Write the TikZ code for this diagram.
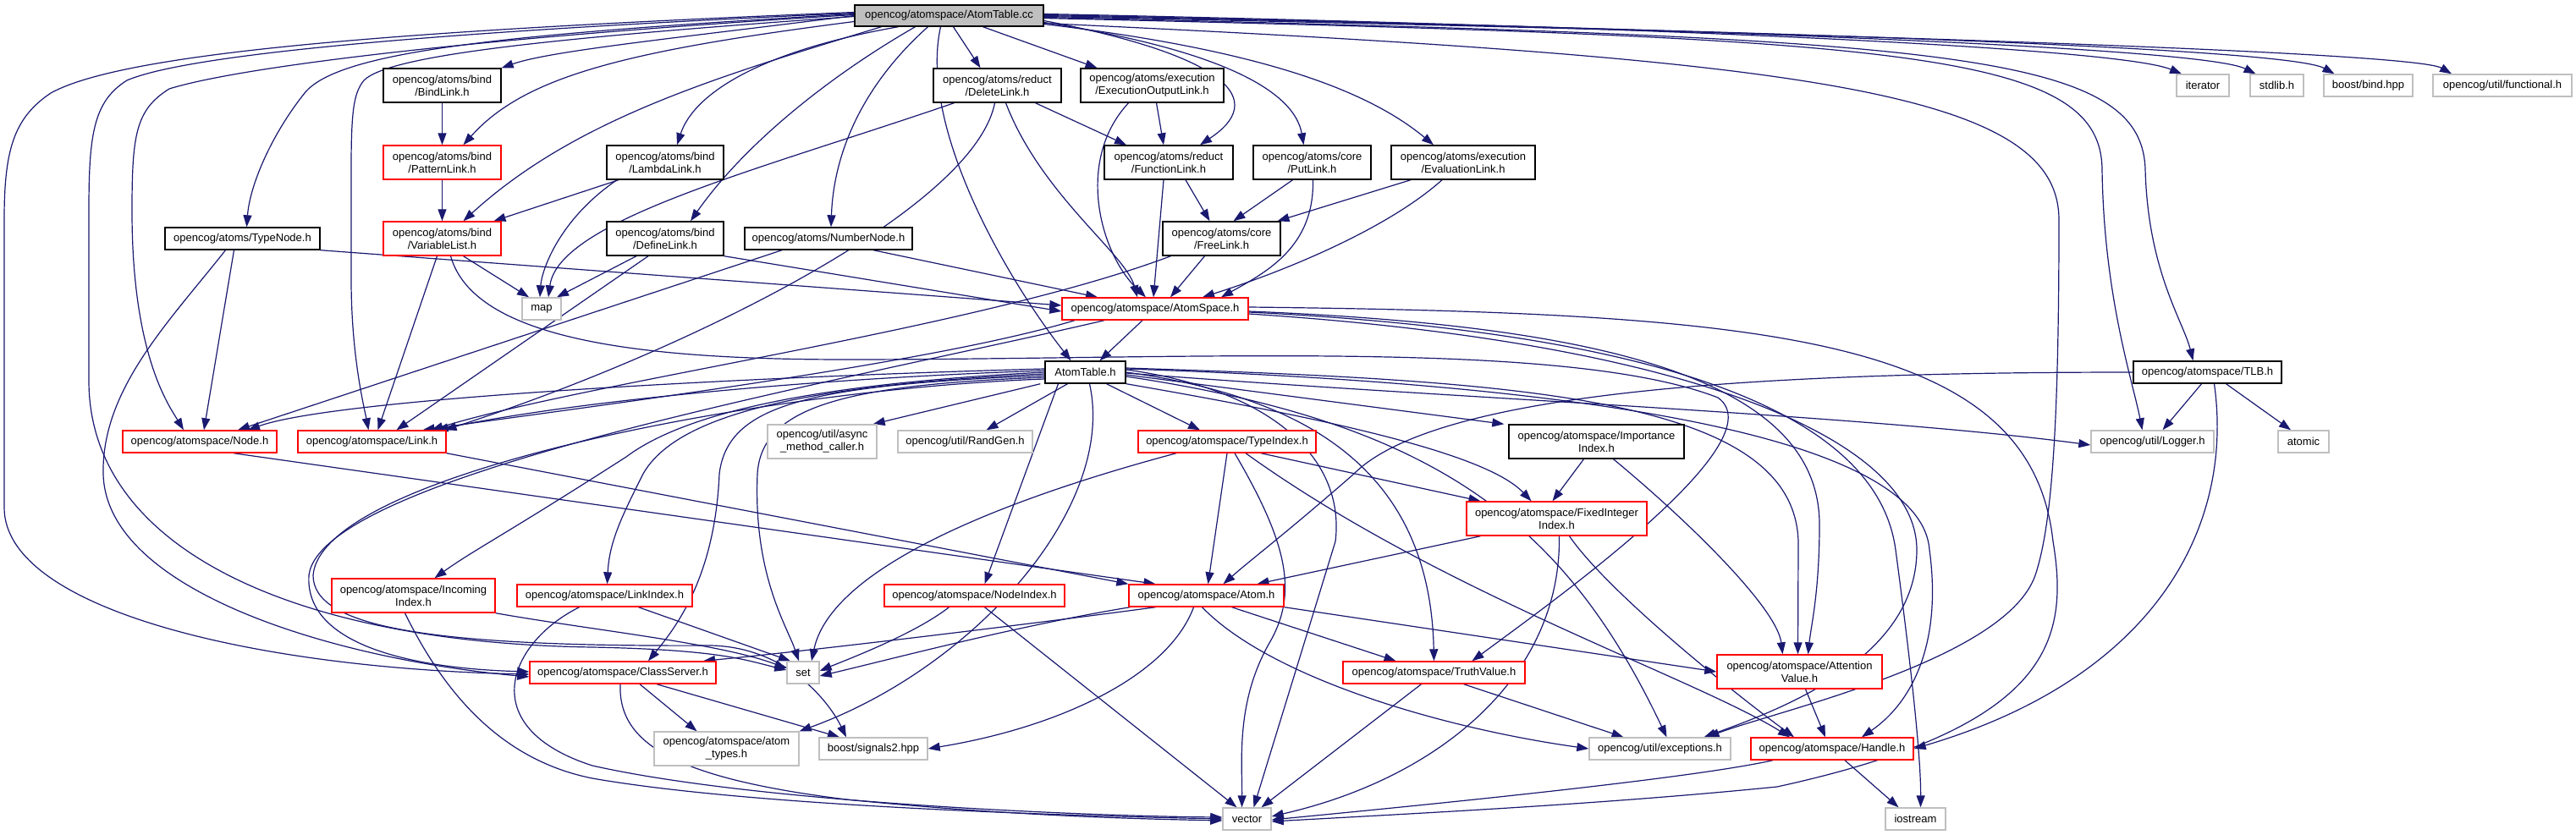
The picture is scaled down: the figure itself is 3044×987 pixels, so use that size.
\documentclass[tikz,border=0pt]{standalone}
\usepackage{fontspec}
\setmainfont{Liberation Sans}
\usetikzlibrary{arrows.meta}
\definecolor{edgec}{HTML}{191970}
\definecolor{dxred}{HTML}{FF0000}
\definecolor{dxgray}{HTML}{BFBFBF}
\pgfdeclarelayer{back}
\pgfdeclarelayer{edges}
\pgfsetlayers{back,edges,main}
\newcommand\mkn[7]{\node[#2, minimum width=#5pt, minimum height=#6pt] (#1) at (#3,#4) {#7};}
\tikzset{
  box/.style={rectangle, draw=black, fill=white, line width=1.4pt, align=center, inner sep=0pt,
    font=\fontsize{13}{15}\selectfont},
  blk/.style={box},
  rbox/.style={box, draw=dxred},
  gbox/.style={box, draw=dxgray},
  root/.style={box, fill=dxgray},
  e/.style={draw=edgec, line width=1.2pt, -{Triangle[length=14pt,width=10pt]}, fill=none}
}
\begin{document}
\begin{tikzpicture}[x=1pt,y=-1pt]
\begin{pgfonlayer}{back}
\fill[white] (0,0) rectangle (3044,987);
\end{pgfonlayer}
\useasboundingbox (0,0) rectangle (3044,987);
% nodes
\mkn{cc}{root}{1121.5}{18.5}{223}{25}{opencog/atomspace/AtomTable.cc}
\mkn{BindLink}{blk}{522.5}{101}{139}{40}{opencog/atoms/bind\\/BindLink.h}
\mkn{DeleteLink}{blk}{1178.5}{101}{151}{40}{opencog/atoms/reduct\\/DeleteLink.h}
\mkn{ExecOut}{blk}{1361.5}{101}{169}{40}{opencog/atoms/execution\\/ExecutionOutputLink.h}
\mkn{iterator}{gbox}{2603}{101}{62}{26}{iterator}
\mkn{stdlib}{gbox}{2690.5}{101}{63}{26}{stdlib.h}
\mkn{bindhpp}{gbox}{2798.5}{101}{105}{26}{boost/bind.hpp}
\mkn{functional}{gbox}{2957}{101}{164}{26}{opencog/util/functional.h}
\mkn{PatternLink}{rbox}{522.5}{192}{139}{40}{opencog/atoms/bind\\/PatternLink.h}
\mkn{LambdaLink}{blk}{786}{192}{138}{40}{opencog/atoms/bind\\/LambdaLink.h}
\mkn{FunctionLink}{blk}{1381}{192}{152}{40}{opencog/atoms/reduct\\/FunctionLink.h}
\mkn{PutLink}{blk}{1550.5}{192}{139}{40}{opencog/atoms/core\\/PutLink.h}
\mkn{EvalLink}{blk}{1729}{192}{170}{40}{opencog/atoms/execution\\/EvaluationLink.h}
\mkn{VariableList}{rbox}{522.5}{282}{139}{40}{opencog/atoms/bind\\/VariableList.h}
\mkn{TypeNode}{blk}{286.5}{282}{183}{26}{opencog/atoms/TypeNode.h}
\mkn{DefineLink}{blk}{786}{282}{138}{40}{opencog/atoms/bind\\/DefineLink.h}
\mkn{NumberNode}{blk}{979}{282}{198}{26}{opencog/atoms/NumberNode.h}
\mkn{FreeLink}{blk}{1443.5}{282}{139}{40}{opencog/atoms/core\\/FreeLink.h}
\mkn{map}{gbox}{640}{365}{46}{26}{map}
\mkn{AtomSpace}{rbox}{1365}{365}{220}{26}{opencog/atomspace/AtomSpace.h}
\mkn{ath}{blk}{1282.5}{440}{95}{26}{AtomTable.h}
\mkn{TLB}{blk}{2608.5}{440}{175}{26}{opencog/atomspace/TLB.h}
\mkn{Node}{rbox}{236}{522}{182}{26}{opencog/atomspace/Node.h}
\mkn{Link}{rbox}{439.5}{522}{175}{26}{opencog/atomspace/Link.h}
\mkn{async}{gbox}{971.5}{522}{129}{40}{opencog/util/async\\\_method\_caller.h}
\mkn{RandGen}{gbox}{1140.5}{522}{159}{26}{opencog/util/RandGen.h}
\mkn{TypeIndex}{rbox}{1450}{522}{210}{26}{opencog/atomspace/TypeIndex.h}
\mkn{Importance}{blk}{1886.5}{522}{207}{40}{opencog/atomspace/Importance\\Index.h}
\mkn{Logger}{gbox}{2543.5}{522}{145}{26}{opencog/util/Logger.h}
\mkn{atomic}{gbox}{2722}{522}{60}{26}{atomic}
\mkn{FixedInteger}{rbox}{1839.5}{613}{213}{40}{opencog/atomspace/FixedInteger\\Index.h}
\mkn{Incoming}{rbox}{488.5}{704}{193}{40}{opencog/atomspace/Incoming\\Index.h}
\mkn{LinkIndex}{rbox}{714.5}{704}{207}{26}{opencog/atomspace/LinkIndex.h}
\mkn{NodeIndex}{rbox}{1151.5}{704}{213}{26}{opencog/atomspace/NodeIndex.h}
\mkn{Atom}{rbox}{1425.5}{704}{183}{26}{opencog/atomspace/Atom.h}
\mkn{ClassServer}{rbox}{736}{795}{220}{26}{opencog/atomspace/ClassServer.h}
\mkn{set}{gbox}{949}{795}{38}{26}{set}
\mkn{TruthValue}{rbox}{1694.5}{795}{215}{26}{opencog/atomspace/TruthValue.h}
\mkn{Attention}{rbox}{2126.5}{794}{195}{40}{opencog/atomspace/Attention\\Value.h}
\mkn{atomtypes}{gbox}{858.5}{885}{171}{40}{opencog/atomspace/atom\\\_types.h}
\mkn{signals}{gbox}{1032}{885}{128}{26}{boost/signals2.hpp}
\mkn{exceptions}{gbox}{1961.5}{885}{167}{26}{opencog/util/exceptions.h}
\mkn{Handle}{rbox}{2165}{885}{192}{26}{opencog/atomspace/Handle.h}
\mkn{vector}{gbox}{1473.5}{968}{57}{26}{vector}
\mkn{iostream}{gbox}{2263.5}{968}{71}{26}{iostream}

\begin{pgfonlayer}{edges}
% ---- from AtomTable.cc
\draw[e] (cc.west) .. controls (800,45) and (650,60) .. (BindLink.north east);
\draw[e] ([yshift=-7pt]cc.west) .. controls (740,60) and (620,90) .. ([xshift=25pt]PatternLink.north);
\draw[e] ([xshift=-80pt]cc.south) .. controls (850,90) and (680,140) .. ([xshift=25pt]VariableList.north);
\draw[e] ([yshift=2pt]cc.west) .. controls (600,40) and (400,60) .. (360,110) .. controls (320,160) and (295,220) .. ([xshift=5pt]TypeNode.north);
\draw[e] ([xshift=-60pt]cc.south) .. controls (900,60) and (820,110) .. ([xshift=14pt]LambdaLink.north);
\draw[e] ([xshift=-40pt]cc.south) .. controls (980,90) and (880,170) .. ([xshift=30pt]DefineLink.north);
\draw[e] ([xshift=-25pt]cc.south) .. controls (1020,100) and (985,180) .. ([xshift=3pt]NumberNode.north);
\draw[e] ([xshift=5pt]cc.south) -- ([xshift=-20pt]DeleteLink.north);
\draw[e] ([xshift=40pt]cc.south) -- ([xshift=-65pt]ExecOut.north);
\draw[e] ([yshift=-6pt]cc.east) .. controls (1420,60) and (1510,110) .. ([xshift=37pt]FunctionLink.north);
\draw[e] ([yshift=-8pt]cc.east) .. controls (1450,60) and (1530,110) .. ([xshift=-10pt]PutLink.north);
\draw[e] ([yshift=-10pt]cc.east) .. controls (1500,60) and (1620,110) .. ([xshift=-35pt]EvalLink.north);
\draw[e] ([xshift=-10pt]cc.south) .. controls (1085,150) and (1190,330) .. ([xshift=-17pt]ath.north);
\draw[e] ([yshift=2pt]cc.east) .. controls (1900,30) and (2500,55) .. ([xshift=-25pt]iterator.north);
\draw[e] ([yshift=1pt]cc.east) .. controls (1950,32) and (2600,55) .. ([xshift=-25pt]stdlib.north);
\draw[e] ([yshift=0pt]cc.east) .. controls (2000,34) and (2700,55) .. ([xshift=-40pt]bindhpp.north);
\draw[e] ([yshift=-1pt]cc.east) .. controls (2050,36) and (2850,60) .. ([xshift=-60pt]functional.north);
\draw[e] ([yshift=-2pt]cc.east) .. controls (2300,45) and (2530,60) .. (2535,200) .. controls (2538,320) and (2580,380) .. ([xshift=-17pt]TLB.north);
\draw[e] ([yshift=-3pt]cc.east) .. controls (2250,45) and (2482,60) .. (2484,200) .. controls (2486,350) and (2520,450) .. ([xshift=-12pt]Logger.north);
\draw[e] ([yshift=-9pt]cc.east) .. controls (2150,70) and (2433,110) .. (2433,260) .. controls (2433,500) and (2425,620) .. (2405,680) .. controls (2370,780) and (2100,840) .. ([xshift=56pt]exceptions.north);
\draw[e] ([yshift=4pt]cc.west) .. controls (500,35) and (150,60) .. (60,110) .. controls (15,140) and (5,180) .. (5,260) -- (5,600) .. controls (5,720) and (300,790) .. ([yshift=-2pt]ClassServer.west);
\draw[e] ([yshift=3pt]cc.west) .. controls (500,38) and (220,65) .. (150,95) .. controls (110,120) and (105,160) .. (105,250) -- (105,450) .. controls (105,650) and (350,760) .. (700,765) .. controls (850,768) and (880,780) .. ([yshift=3pt]set.west);
\draw[e] ([yshift=1pt]cc.west) .. controls (550,45) and (280,80) .. (200,105) .. controls (160,130) and (156,160) .. (156,250) .. controls (156,420) and (200,480) .. ([xshift=-19pt]Node.north);
\draw[e] ([yshift=-1pt]cc.west) .. controls (650,45) and (460,65) .. (430,95) .. controls (418,110) and (415,130) .. (415,200) -- (415,330) .. controls (415,420) and (430,480) .. ([xshift=-4pt]Link.north);
% ---- atoms
\draw[e] (BindLink) -- (PatternLink);
\draw[e] (PatternLink) -- (VariableList);
\draw[e] ([xshift=-55pt]LambdaLink.south) -- ([xshift=61pt]VariableList.north);
\draw[e] ([xshift=-57pt]LambdaLink.south) .. controls (660,260) and (640,320) .. ([xshift=-2pt]map.north);
\draw[e] ([xshift=25pt]VariableList.south) -- ([xshift=-15pt]map.north);
\draw[e] ([xshift=-6pt]VariableList.south) -- ([xshift=7pt]Link.north);
\draw[e] ([xshift=10pt]VariableList.south) .. controls (560,400) and (750,425) .. (1000,425) .. controls (1400,425) and (1850,400) .. (2030,470) .. controls (2100,520) and (1850,700) .. ([xshift=45pt]TruthValue.north);
\draw[e] ([xshift=-10pt]TypeNode.south) -- ([xshift=5pt]Node.north);
\draw[e] ([xshift=-20pt]TypeNode.south) .. controls (200,380) and (120,460) .. (122,560) .. controls (125,700) and (400,780) .. ([yshift=-5pt]ClassServer.west);
\draw[e] (TypeNode.south east) -- ([yshift=4pt]AtomSpace.west);
\draw[e] ([xshift=-55pt]NumberNode.south) -- ([xshift=45pt]Node.north);
\draw[e] ([xshift=53pt]NumberNode.south) -- ([xshift=-68pt]AtomSpace.north);
\draw[e] ([xshift=-34pt]DefineLink.south) -- ([xshift=18pt]map.north);
\draw[e] ([xshift=-20pt]DefineLink.south) -- ([xshift=29pt]Link.north);
\draw[e] (DefineLink.south east) -- ([yshift=-3pt]AtomSpace.west);
\draw[e] ([xshift=-51pt]DeleteLink.south) .. controls (900,200) and (660,260) .. ([xshift=8pt]map.north);
\draw[e] ([xshift=-3pt]DeleteLink.south) .. controls (1150,250) and (800,420) .. ([xshift=86pt]Link.north);
\draw[e] ([xshift=10pt]DeleteLink.south) .. controls (1230,230) and (1330,300) .. ([xshift=-21pt]AtomSpace.north);
\draw[e] ([xshift=45pt]DeleteLink.south) -- ([xshift=-50pt]FunctionLink.north);
\draw[e] ([xshift=5pt]ExecOut.south) -- ([xshift=-6pt]FunctionLink.north);
\draw[e] ([xshift=-28pt]ExecOut.south) .. controls (1270,190) and (1300,300) .. ([xshift=-11pt]AtomSpace.north);
\draw[e] ([xshift=20pt]FunctionLink.south) -- ([xshift=-14pt]FreeLink.north);
\draw[e] ([xshift=-6pt]FunctionLink.south) -- ([xshift=-2pt]AtomSpace.north);
\draw[e] ([xshift=-23pt]PutLink.south) -- ([xshift=14pt]FreeLink.north);
\draw[e] ([xshift=1pt]PutLink.south) .. controls (1553,290) and (1500,320) .. ([xshift=78pt]AtomSpace.north);
\draw[e] ([xshift=-62pt]EvalLink.south) -- ([xshift=66pt]FreeLink.north);
\draw[e] ([xshift=-25pt]EvalLink.south) .. controls (1640,270) and (1520,320) .. ([xshift=56pt]AtomSpace.north);
\draw[e] ([xshift=-20pt]FreeLink.south) -- ([xshift=18pt]AtomSpace.north);
\draw[e] ([xshift=-60pt]FreeLink.south) .. controls (1150,390) and (700,450) .. ([xshift=70pt]Link.north);
% ---- AtomSpace.h
\draw[e] ([xshift=-15pt]AtomSpace.south) -- ([xshift=17pt]ath.north);
\draw[e] ([xshift=-95pt]AtomSpace.south) .. controls (1100,430) and (700,480) .. ([xshift=60pt]Link.north);
\draw[e] ([xshift=-60pt]AtomSpace.south) .. controls (1000,450) and (380,560) .. (365,680) .. controls (360,760) and (480,790) .. ([yshift=1pt]ClassServer.west);
\draw[e] ([yshift=-3pt]AtomSpace.east) .. controls (1900,385) and (2150,450) .. (2150,620) .. controls (2150,700) and (2140,740) .. ([xshift=10pt]Attention.north);
\draw[e] ([yshift=-4pt]AtomSpace.east) .. controls (2000,395) and (2220,500) .. (2240,650) .. controls (2260,800) and (2270,900) .. ([xshift=6pt]iostream.north);
\draw[e] ([yshift=-6pt]AtomSpace.east) .. controls (2000,405) and (2265,520) .. (2265,650) .. controls (2265,780) and (2100,840) .. ([xshift=52pt]exceptions.north);
\draw[e] ([yshift=2pt]AtomSpace.east) .. controls (2100,370) and (2400,400) .. (2426,640) .. controls (2446,760) and (2420,860) .. (2100,930) .. controls (1900,950) and (1700,960) .. ([yshift=-3pt]vector.east);
% ---- AtomTable.h
\draw[e] ([xshift=-5pt]ath.south west) -- ([xshift=-5pt]async.north east);
\draw[e] ([xshift=-21pt]ath.south) -- ([xshift=25pt]RandGen.north);
\draw[e] ([xshift=25pt]ath.south) -- ([xshift=-32pt]TypeIndex.north);
\draw[e] ([yshift=-3pt]ath.east) -- ([xshift=-5pt]Importance.north west);
\draw[e] (ath.south east) .. controls (1600,500) and (1760,540) .. ([xshift=-30pt]FixedInteger.north);
\draw[e] ([yshift=4pt]ath.west) .. controls (900,445) and (400,470) .. ([xshift=57pt]Node.north);
\draw[e] ([yshift=2pt]ath.west) .. controls (900,450) and (650,480) .. ([xshift=76pt]Link.north);
\draw[e] ([yshift=0pt]ath.west) .. controls (1000,452) and (820,480) .. (740,540) .. controls (600,630) and (560,650) .. ([xshift=25pt]Incoming.north);
\draw[e] ([yshift=-2pt]ath.west) .. controls (950,455) and (800,490) .. (760,560) .. controls (735,610) and (720,640) .. ([xshift=3pt]LinkIndex.north);
\draw[e] ([yshift=-4pt]ath.west) .. controls (950,455) and (860,480) .. (850,560) .. controls (845,680) and (800,740) .. ([xshift=30pt]ClassServer.north);
\draw[e] ([yshift=-6pt]ath.west) .. controls (1000,455) and (900,480) .. (895,560) .. controls (890,680) and (930,740) .. ([xshift=-5pt]set.north);
\draw[e] ([xshift=-32pt]ath.south) -- ([xshift=12pt]NodeIndex.north);
\draw[e] ([yshift=-8pt]ath.west) .. controls (900,460) and (380,560) .. (370,680) .. controls (370,740) and (500,765) .. (840,763) .. controls (930,765) and (980,830) .. ([xshift=-32pt]signals.north);
\draw[e] ([xshift=5pt]ath.south) .. controls (1320,600) and (1150,790) .. (atomtypes.north east);
\draw[e] (ath.east) .. controls (1550,470) and (1690,560) .. (TruthValue.north);
\draw[e] ([yshift=3pt]ath.east) .. controls (1500,460) and (1590,540) .. (1578,640) -- ([xshift=8pt]vector.north);
\draw[e] ([yshift=5pt]ath.east) .. controls (1800,450) and (2120,470) .. (2125,640) -- ([xshift=-2pt]Attention.north);
\draw[e] ([yshift=4pt]ath.east) .. controls (1900,455) and (2270,520) .. (2280,650) .. controls (2295,760) and (2260,830) .. ([xshift=35pt]Handle.north);
\draw[e] ([yshift=-5pt]ath.east) .. controls (1700,500) and (1850,620) .. ([xshift=8pt]exceptions.north);
\draw[e] ([yshift=-1pt]ath.east) .. controls (1700,470) and (2200,490) .. ([yshift=-4pt]Logger.west);
% ---- indexes
\draw[e] ([xshift=-60pt]TypeIndex.south) .. controls (1150,600) and (980,680) .. ([xshift=10pt]set.north);
\draw[e] (TypeIndex.south) -- ([xshift=2pt]Atom.north);
\draw[e] ([xshift=40pt]TypeIndex.south) -- ([xshift=-90pt]FixedInteger.north);
\draw[e] ([xshift=9pt]TypeIndex.south) .. controls (1520,640) and (1535,700) .. (1500,760) .. controls (1460,830) and (1468,900) .. ([xshift=-6pt]vector.north);
\draw[e] ([xshift=22pt]TypeIndex.south) .. controls (1700,700) and (2000,800) .. ([xshift=-50pt]Handle.north);
\draw[e] ([xshift=-30pt]NodeIndex.south) .. controls (1080,750) and (1000,780) .. ([yshift=2pt]set.east);
\draw[e] ([xshift=12pt]NodeIndex.south) -- ([xshift=-12pt]vector.north);
\draw[e] ([xshift=40pt]LinkIndex.south) -- ([xshift=-15pt]set.north);
\draw[e] ([xshift=-30pt]LinkIndex.south) .. controls (600,760) and (560,860) .. (700,905) .. controls (900,950) and (1300,965) .. ([yshift=2pt]vector.west);
\draw[e] (Incoming.south east) .. controls (700,745) and (850,760) .. ([yshift=5pt]set.west);
\draw[e] ([xshift=-10pt]Incoming.south) .. controls (530,830) and (600,900) .. (700,920) .. controls (900,955) and (1300,965) .. (vector.west);
\draw[e] ([xshift=20pt]ClassServer.south) -- ([xshift=-35pt]atomtypes.north);
\draw[e] ([xshift=40pt]ClassServer.south) -- ([xshift=-40pt]signals.north);
\draw[e] ([xshift=-3pt]ClassServer.south) .. controls (730,880) and (800,920) .. (1000,945) .. controls (1200,965) and (1350,968) .. ([yshift=-2pt]vector.west);
% ---- Atom.h
\draw[e] ([xshift=-90pt]Atom.south) .. controls (1200,740) and (1050,780) .. ([yshift=-4pt]set.east);
\draw[e] ([xshift=-60pt]Atom.south) .. controls (1200,740) and (950,770) .. ([xshift=95pt]ClassServer.north);
\draw[e] ([xshift=-15pt]Atom.south) .. controls (1380,800) and (1250,860) .. (signals.east);
\draw[e] ([xshift=30pt]Atom.south) -- ([xshift=-45pt]TruthValue.north);
\draw[e] ([xshift=-5pt]Atom.south) .. controls (1500,800) and (1700,860) .. (exceptions.west);
\draw[e] (Atom.south east) -- (Attention.west);
\draw[e] ([xshift=40pt]Node.south) -- ([xshift=-60pt]Atom.north);
\draw[e] (Link.south east) -- (Atom.north west);
% ---- values
\draw[e] ([xshift=-15pt]TruthValue.south) -- ([xshift=17pt]vector.north);
\draw[e] ([xshift=35pt]TruthValue.south) -- ([xshift=-43pt]exceptions.north);
\draw[e] ([xshift=7pt]Attention.south) -- ([xshift=-8pt]Handle.north);
\draw[e] ([xshift=-70pt]Handle.south) .. controls (2000,920) and (1700,950) .. ([yshift=-1pt]vector.east);
\draw[e] ([xshift=15pt]Handle.south) -- ([xshift=-20pt]iostream.north);
% ---- TLB
\draw[e] ([xshift=-7pt]TLB.south) -- ([xshift=12pt]Logger.north);
\draw[e] ([xshift=22pt]TLB.south) -- ([xshift=-15pt]atomic.north);
\draw[e] ([xshift=8pt]TLB.south) .. controls (2640,620) and (2550,800) .. (Handle.east);
\draw[e] (TLB.west) .. controls (2100,440) and (1700,460) .. (1600,560) .. controls (1520,630) and (1480,660) .. ([xshift=20pt]Atom.north);
% ---- Importance / FixedInteger
\draw[e] ([xshift=-15pt]Importance.south) -- ([xshift=-5pt]FixedInteger.north);
\draw[e] ([xshift=20pt]Importance.south) .. controls (2000,620) and (2100,720) .. ([xshift=-20pt]Attention.north);
\draw[e] ([xshift=-90pt]FixedInteger.south) -- ([xshift=60pt]Atom.north);
\draw[e] ([xshift=3pt]FixedInteger.south) .. controls (1845,800) and (1700,920) .. ([yshift=3pt]vector.east);
\draw[e] ([xshift=15pt]FixedInteger.south) .. controls (1900,700) and (2050,820) .. ([xshift=-45pt]Handle.north);
\end{pgfonlayer}
\end{tikzpicture}
\end{document}
